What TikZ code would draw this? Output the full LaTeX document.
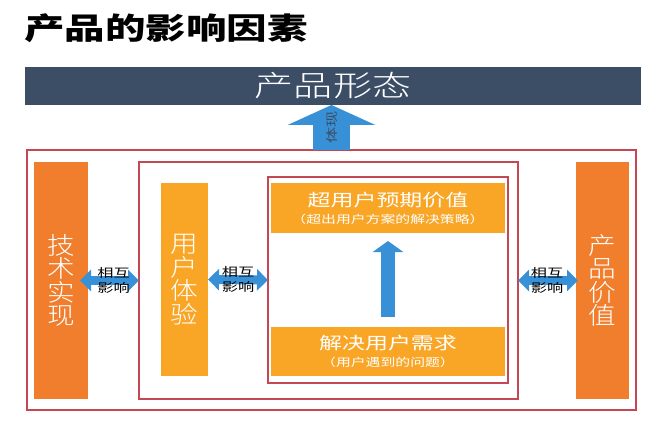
\documentclass[tikz,border=0pt]{standalone}
\usepackage{fontspec}
\usetikzlibrary{arrows.meta}

\newfontfamily\cjk[FakeStretch=1.35]{Noto Sans CJK SC}
\IfFontExistsTF{Noto Sans CJK SC Light}
  {\newfontfamily\cjkthin[FakeStretch=1.35]{Noto Sans CJK SC Light}
   \newfontfamily\cjkvert[FakeStretch=1.15]{Noto Sans CJK SC Light}}
  {\newfontfamily\cjkthin[FakeStretch=1.35]{Noto Sans CJK SC}
   \newfontfamily\cjkvert[FakeStretch=1.15]{Noto Sans CJK SC}}

\definecolor{barslate}{RGB}{59,78,101}
\definecolor{barorange}{RGB}{240,126,44}
\definecolor{boxamber}{RGB}{249,166,39}
\definecolor{arrowblue}{RGB}{56,145,215}
\definecolor{framered}{RGB}{196,72,84}

\begin{document}
\begin{tikzpicture}[x=1pt,y=-1pt,
  redframe/.style={draw=framered,line width=1.1pt,inner sep=0pt,outer sep=0pt},
  orangebar/.style={fill=barorange,text=white,inner sep=0pt,outer sep=0pt,
    align=center,font=\cjkvert\fontsize{24}{23.5}\selectfont},
  amberbar/.style={fill=boxamber,text=white,inner sep=0pt,outer sep=0pt,
    align=center,font=\cjkvert\fontsize{24}{23.5}\selectfont},
  amberbox/.style={fill=boxamber,text=white,inner sep=0pt,outer sep=0pt,
    align=center,font=\cjk\fontsize{17}{17}\selectfont},
  subline/.style={font=\cjk\fontsize{11}{20}\selectfont},
  mutual/.style={arrowblue,line width=9pt,
    {Triangle[length=11pt,width=21pt]}-{Triangle[length=11pt,width=21pt]}},
  mutuallabel/.style={text=black,align=center,font=\cjk\fontsize{12}{15}\selectfont},
  riseup/.style={arrowblue,line width=14pt,-{Triangle[length=11pt,width=30pt]}}]

\useasboundingbox[fill=white] (0,0) rectangle (662,425);

% ---------------- TITLE ----------------
\node[anchor=west,inner sep=0pt,font=\cjk\bfseries\fontsize{30}{30}\selectfont]
  (title) at (24,28.5) {产品的影响因素};

% ---------------- TOP BAR ----------------
\node[fill=barslate,text=white,inner sep=0pt,outer sep=0pt,
  minimum width=616pt,minimum height=38pt,font=\cjkthin\fontsize{29}{29}\selectfont]
  (form) at (333,86) {产品形态};

% ---------------- FRAMES ----------------
\node[redframe,minimum width=609pt,minimum height=260pt] (outer) at (331.5,280) {};
\node[redframe,minimum width=379pt,minimum height=237pt] (mid) at (328.5,280.5) {};
\node[redframe,minimum width=240pt,minimum height=206pt] (inner) at (388,280) {};

% "体现" arrow up to the bar
\draw[arrowblue,line width=37pt,-{Triangle[length=20pt,width=87pt]}]
  (outer.north) -- (outer.north |- form.south)
  node[midway,rotate=90,text=barslate,font=\cjk\fontsize{12}{12}\selectfont] (show) {体现};

% ---------------- BARS AND BOXES ----------------
\node[orangebar,minimum width=54pt,minimum height=237pt] (tech) at (61,280.5)
  {技\\术\\实\\现};
\node[amberbar,minimum width=47pt,minimum height=193pt] (ux) at (184.5,279.5)
  {用\\户\\体\\验};
\node[orangebar,minimum width=53pt,minimum height=237pt] (value) at (602.5,280.5)
  {产\\品\\价\\值};

\node[amberbox,minimum width=234pt,minimum height=50pt] (beyond) at (388,208)
  {超用户预期价值\\{\fontsize{11}{20}\selectfont （超出用户方案的解决策略）}};
\node[amberbox,minimum width=234pt,minimum height=49pt] (need) at (388,351.5)
  {解决用户需求\\{\fontsize{11}{20}\selectfont （用户遇到的问题）}};

% need -> beyond
\draw[riseup,shorten <=10pt,shorten >=8pt] (need.north) -- (beyond.south);

% ---------------- MUTUAL ARROWS ----------------
\draw[mutual,shorten <=-8pt] (tech.east) -- (mid.west)
  node[midway,mutuallabel] (m1) {相互\\影响};
\draw[mutual] (ux.east) -- (inner.west)
  node[midway,mutuallabel] (m2) {相互\\影响};
\draw[mutual,shorten >=-2pt] (mid.east) -- (value.west)
  node[midway,mutuallabel] (m3) {相互\\影响};

\end{tikzpicture}
\end{document}
